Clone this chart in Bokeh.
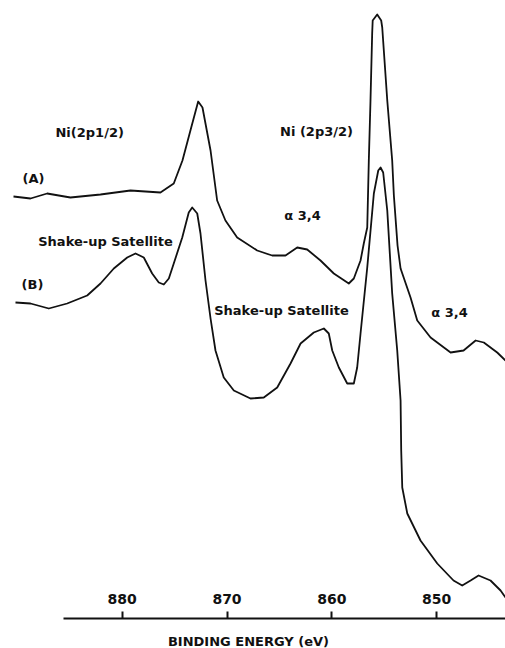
from bokeh.plotting import figure
from bokeh.models import Range1d, LinearAxis, FixedTicker, Label
from bokeh.embed import file_html
from bokeh.resources import INLINE

# Binding energy (eV) and intensity (arbitrary units)
energy_a = [890.37, 888.75, 887.16, 884.94, 882.07, 879.21, 876.35, 875.08, 874.25, 873.49,
            872.75, 872.34, 871.57, 870.94, 870.15, 869.03, 867.12, 865.69, 864.42, 863.30,
            862.35, 861.08, 859.81, 858.38, 857.90, 857.26, 856.95, 856.62, 856.47, 856.31,
            856.15, 856.10, 855.67, 855.29, 855.19, 854.71, 854.24, 854.08, 853.73, 853.44,
            852.49, 851.85, 850.58, 848.67, 847.43, 846.28, 845.50, 844.22, 843.43]
intensity_a = [422, 420, 425, 421, 424, 428, 426, 435, 458, 488,
               517, 511, 468, 418, 398, 381, 368, 363, 363, 371,
               369, 358, 345, 335, 340, 358, 375, 391, 458, 518,
               585, 598, 604, 598, 591, 518, 458, 423, 373, 350,
               321, 298, 281, 266, 268, 278, 276, 266, 258]

energy_b = [890.18, 888.75, 887.00, 885.25, 883.34, 882.07, 880.80, 879.52, 878.73, 877.94,
            877.14, 876.51, 876.03, 875.55, 875.08, 874.27, 873.65, 873.32, 872.84, 872.53,
            872.05, 871.57, 871.10, 870.31, 869.35, 867.76, 866.49, 865.21, 863.94, 862.98,
            861.72, 860.76, 860.29, 859.96, 859.33, 858.53, 857.90, 857.58, 857.26, 856.62,
            855.99, 855.57, 855.35, 855.10, 854.71, 854.24, 853.76, 853.44, 853.38, 853.28,
            852.80, 851.54, 849.94, 848.39, 847.56, 846.76, 846.00, 844.86, 843.90, 843.43]
intensity_b = [316, 315, 310, 315, 323, 335, 350, 361, 365, 361,
               345, 336, 334, 340, 355, 381, 406, 411, 405, 385,
               338, 300, 268, 241, 228, 220, 221, 231, 255, 275,
               286, 290, 285, 268, 251, 235, 235, 251, 285, 351,
               425, 448, 451, 446, 408, 325, 268, 218, 168, 131,
               105, 78, 55, 38, 33, 38, 43, 38, 28, 21]

tick_values = [850, 860, 870, 880]
axis_title = "BINDING   ENERGY (eV)"

annotations = [
    ("Ni(2p1/2)", 883.1, 486),
    ("Ni (2p3/2)", 861.46, 487),
    ("(A)", 888.46, 440),
    ("(B)", 888.56, 334),
    ("Shake-up Satellite", 881.59, 377),
    ("\u03b1 3,4", 862.8, 403),
    ("Shake-up Satellite", 864.8, 308),
    ("\u03b1 3,4", 848.77, 306),
]

FONT = "DejaVu Sans"
INK = "#111111"

p = figure(width=505, height=648, output_backend="svg", toolbar_location=None,
           x_range=Range1d(891.61, 843.43), y_range=Range1d(-30, 618),
           x_axis_type=None, y_axis_type=None, min_border=0)
p.outline_line_color = None
p.background_fill_color = "white"
p.border_fill_color = "white"

p.line(energy_a, intensity_a, line_width=1.8, line_color=INK, line_join="round")
p.line(energy_b, intensity_b, line_width=1.8, line_color=INK, line_join="round")

ax = LinearAxis(ticker=FixedTicker(ticks=tick_values, minor_ticks=[]),
                fixed_location=0, bounds=(843.43, 885.6))
ax.axis_line_width = 2
ax.axis_line_color = INK
ax.major_tick_out = 7
ax.major_tick_in = 0
ax.minor_tick_out = 0
ax.minor_tick_in = 0
ax.major_tick_line_width = 2
ax.major_tick_line_color = INK
ax.major_label_standoff = 8
ax.major_label_text_font = FONT
ax.major_label_text_font_style = "bold"
ax.major_label_text_font_size = "14px"
ax.major_label_text_color = INK
p.add_layout(ax, "above")

p.add_layout(Label(x=867.52, y=-23, text=axis_title, text_align="center",
                   text_baseline="middle", text_font=FONT, text_font_style="bold",
                   text_font_size="13px", text_color=INK))

for txt, xx, yy in annotations:
    p.add_layout(Label(x=xx, y=yy, text=txt, text_align="center",
                       text_baseline="middle", text_font=FONT, text_font_style="bold",
                       text_font_size="13px", text_color=INK))

open("out.html", "w").write(file_html(p, INLINE))
